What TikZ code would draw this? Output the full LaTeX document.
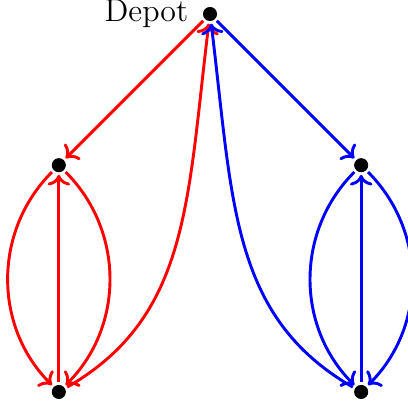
\documentclass[tikz,border=0pt]{standalone}
\usetikzlibrary{arrows.meta, positioning}

\tikzset{
  stop/.style={circle, fill=black, inner sep=0pt, minimum size=5.3pt, outer sep=1pt},
  route/.style={line width=1.1pt, ->},
}

\begin{document}
\begin{tikzpicture}
\useasboundingbox (-2.778,-5.198) rectangle (2.619,0.185);
% stops
\node[stop, label={[label distance=1pt]left:\large Depot}] (depot) at (0,0) {};
\node[stop] (a1) at (-2,-2) {};
\node[stop] (a2) at (-2,-5) {};
\node[stop] (b1) at (2,-2) {};
\node[stop] (b2) at (2,-5) {};
% red tour
\draw[route, red] (depot) -- (a1);
\draw[route, red] (a1) to[bend right=45] (a2);
\draw[route, red] (a1) to[bend left=45] (a2);
\draw[route, red] (a2) -- (a1);
\draw[route, red] (a2) .. controls +(30:2) and +(-97:2.5) .. (depot);
% blue tour
\draw[route, blue] (depot) -- (b1);
\draw[route, blue] (b1) to[bend right=45] (b2);
\draw[route, blue] (b1) to[bend left=45] (b2);
\draw[route, blue] (b2) -- (b1);
\draw[route, blue] (b2) .. controls +(150:2) and +(-83:2.5) .. (depot);
\end{tikzpicture}
\end{document}
